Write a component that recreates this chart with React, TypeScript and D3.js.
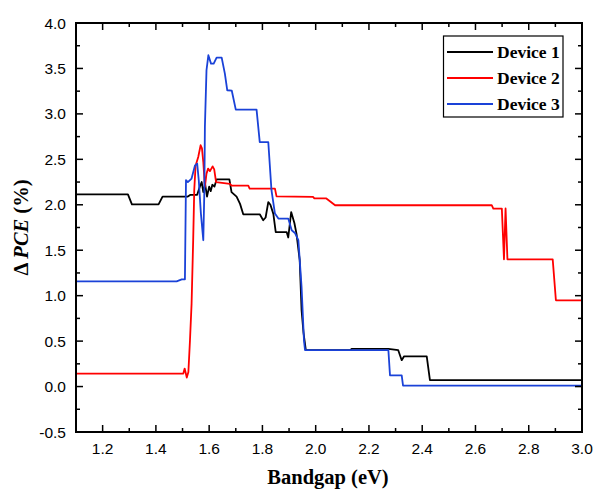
import React, { useEffect, useRef } from 'react';
import * as d3 from 'd3';

// Bandgap (eV) / delta PCE (%)
const dev1X = [1.1, 1.295, 1.31, 1.41, 1.425, 1.52, 1.53, 1.555, 1.565, 1.572, 1.578, 1.585, 1.592, 1.6, 1.606, 1.612, 1.62, 1.628, 1.676, 1.684, 1.703, 1.716, 1.728, 1.79, 1.803, 1.812, 1.822, 1.83, 1.841, 1.85, 1.891, 1.897, 1.908, 1.92, 1.928, 1.94, 1.947, 1.954, 1.963, 2.13, 2.135, 2.273, 2.31, 2.323, 2.332, 2.417, 2.429, 3.0];
const dev1Y = [2.115, 2.115, 2.005, 2.005, 2.09, 2.09, 2.11, 2.11, 2.2, 2.25, 2.14, 2.225, 2.09, 2.2, 2.15, 2.22, 2.2, 2.28, 2.28, 2.14, 2.09, 2.01, 1.895, 1.895, 1.83, 1.86, 2.03, 2.0, 1.9, 1.7, 1.7, 1.64, 1.92, 1.8, 1.68, 1.39, 0.84, 0.6, 0.4, 0.4, 0.415, 0.415, 0.4, 0.29, 0.333, 0.333, 0.07, 0.07];

const dev2X = [1.1, 1.503, 1.508, 1.516, 1.522, 1.528, 1.534, 1.54, 1.544, 1.549, 1.559, 1.568, 1.573, 1.578, 1.584, 1.59, 1.596, 1.603, 1.613, 1.619, 1.626, 1.678, 1.684, 1.747, 1.752, 1.847, 1.853, 1.99, 1.995, 2.04, 2.073, 2.661, 2.667, 2.699, 2.707, 2.713, 2.72, 2.73, 2.89, 2.902, 3.0];
const dev2Y = [0.143, 0.143, 0.198, 0.099, 0.16, 0.509, 0.91, 1.61, 2.16, 2.43, 2.526, 2.655, 2.62, 2.47, 2.196, 2.343, 2.398, 2.37, 2.423, 2.39, 2.25, 2.23, 2.21, 2.21, 2.178, 2.178, 2.093, 2.086, 2.07, 2.07, 1.995, 1.995, 1.958, 1.958, 1.4, 1.96, 1.4, 1.4, 1.4, 0.949, 0.949];

const dev3X = [1.1, 1.478, 1.497, 1.509, 1.513, 1.52, 1.534, 1.547, 1.555, 1.561, 1.569, 1.578, 1.582, 1.584, 1.59, 1.597, 1.607, 1.617, 1.628, 1.647, 1.659, 1.668, 1.685, 1.7, 1.778, 1.79, 1.822, 1.834, 1.847, 1.86, 1.897, 1.91, 1.922, 1.935, 1.947, 1.956, 1.96, 2.273, 2.279, 2.323, 2.328, 3.0];
const dev3Y = [1.158, 1.158, 1.18, 1.18, 2.27, 2.25, 2.288, 2.434, 2.453, 2.27, 1.903, 1.61, 2.16, 2.856, 3.48, 3.645, 3.553, 3.553, 3.619, 3.619, 3.443, 3.26, 3.255, 3.047, 3.047, 2.69, 2.69, 2.16, 1.903, 1.848, 1.848, 1.72, 1.69, 1.61, 1.096, 0.509, 0.4, 0.4, 0.124, 0.124, 0.011, 0.011];

const seriesNames = ['Device 1', 'Device 2', 'Device 3'];
const seriesColors = ['#000000', '#ff0000', '#1a42d8'];

const xTicks = [1.2, 1.4, 1.6, 1.8, 2.0, 2.2, 2.4, 2.6, 2.8, 3.0];
const yTicks = [-0.5, 0.0, 0.5, 1.0, 1.5, 2.0, 2.5, 3.0, 3.5, 4.0];

const W = 595;
const H = 490;
const margin = { left: 76, top: 23, right: 13, bottom: 58 };

const App: React.FC = () => {
    const svgRef = useRef<SVGSVGElement | null>(null);

    useEffect(() => {
        if (svgRef.current) drawChart();
    }, []);

    const drawChart = () => {
        const svg = d3.select(svgRef.current);
        svg.selectAll('*').remove();

        const x = d3.scaleLinear().domain([1.1, 3.0]).range([margin.left, W - margin.right]);
        const y = d3.scaleLinear().domain([-0.5, 4.0]).range([H - margin.bottom, margin.top]);
        const [x0, x1] = x.range();
        const [y0, y1] = y.range();

        const plot = svg.append('g');

        // clip so lines don't poke past the frame
        svg.append('defs')
            .append('clipPath')
            .attr('id', 'clip')
            .append('rect')
            .attr('x', x0)
            .attr('y', y1)
            .attr('width', x1 - x0)
            .attr('height', y0 - y1);

        const line = d3
            .line<[number, number]>()
            .x((d) => x(d[0]))
            .y((d) => y(d[1]));

        const all = [
            [dev1X, dev1Y],
            [dev2X, dev2Y],
            [dev3X, dev3Y],
        ];
        all.forEach(([xs, ys], i) => {
            const pts = xs.map((v, k) => [v, ys[k]] as [number, number]);
            plot.append('path')
                .attr('d', line(pts))
                .attr('fill', 'none')
                .attr('stroke', seriesColors[i])
                .attr('stroke-width', 1.8)
                .attr('stroke-linejoin', 'round')
                .attr('clip-path', 'url(#clip)');
        });

        // ticks (inward, all four sides)
        const minorX = d3.range(11, 31).map((v) => v / 10).filter((v) => Math.round(v * 10) % 2 === 1);
        const minorY = d3.range(-1, 8).map((v) => v * 0.5 + 0.25).filter((v) => v < 4);
        const tk = svg.append('g').attr('stroke', '#000').attr('stroke-width', 1.5);
        xTicks.forEach((v) => {
            tk.append('line').attr('x1', x(v)).attr('x2', x(v)).attr('y1', y0).attr('y2', y0 - 7);
            tk.append('line').attr('x1', x(v)).attr('x2', x(v)).attr('y1', y1).attr('y2', y1 + 7);
        });
        minorX.forEach((v) => {
            tk.append('line').attr('x1', x(v)).attr('x2', x(v)).attr('y1', y0).attr('y2', y0 - 4);
            tk.append('line').attr('x1', x(v)).attr('x2', x(v)).attr('y1', y1).attr('y2', y1 + 4);
        });
        yTicks.forEach((v) => {
            tk.append('line').attr('x1', x0).attr('x2', x0 + 7).attr('y1', y(v)).attr('y2', y(v));
            tk.append('line').attr('x1', x1).attr('x2', x1 - 7).attr('y1', y(v)).attr('y2', y(v));
        });
        minorY.forEach((v) => {
            tk.append('line').attr('x1', x0).attr('x2', x0 + 4).attr('y1', y(v)).attr('y2', y(v));
            tk.append('line').attr('x1', x1).attr('x2', x1 - 4).attr('y1', y(v)).attr('y2', y(v));
        });

        // frame
        svg.append('rect')
            .attr('x', x0)
            .attr('y', y1)
            .attr('width', x1 - x0)
            .attr('height', y0 - y1)
            .attr('fill', 'none')
            .attr('stroke', '#000')
            .attr('stroke-width', 2);

        // tick labels
        const font = '"Liberation Sans", Arial, sans-serif';
        svg.append('g')
            .selectAll('text')
            .data(xTicks)
            .enter()
            .append('text')
            .attr('x', (d) => x(d))
            .attr('y', y0 + 22)
            .attr('text-anchor', 'middle')
            .style('font-family', font)
            .style('font-size', '15.5px')
            .text((d) => d.toFixed(1));
        svg.append('g')
            .selectAll('text')
            .data(yTicks)
            .enter()
            .append('text')
            .attr('x', x0 - 10)
            .attr('y', (d) => y(d) + 5.5)
            .attr('text-anchor', 'end')
            .style('font-family', font)
            .style('font-size', '15.5px')
            .text((d) => d.toFixed(1));

        // axis titles
        const serif = '"Liberation Serif", "Times New Roman", serif';
        svg.append('text')
            .attr('x', (x0 + x1) / 2 - 1)
            .attr('y', 484)
            .attr('text-anchor', 'middle')
            .style('font-family', serif)
            .style('font-weight', 'bold')
            .style('font-size', '20.5px')
            .text('Bandgap (eV)');

        const yt = svg.append('text')
            .attr('transform', `translate(28, ${(y0 + y1) / 2}) rotate(-90)`)
            .attr('text-anchor', 'middle')
            .style('font-family', serif)
            .style('font-weight', 'bold')
            .style('font-size', '20.5px');
        yt.append('tspan').text('\u0394 ');
        yt.append('tspan').style('font-style', 'italic').text('PCE');
        yt.append('tspan').text(' (%)');

        // legend
        const lg = svg.append('g');
        lg.append('rect')
            .attr('x', 443.5)
            .attr('y', 36)
            .attr('width', 119.5)
            .attr('height', 81)
            .attr('fill', '#fff')
            .attr('stroke', '#000')
            .attr('stroke-width', 1.2);
        seriesNames.forEach((name, i) => {
            const ly = 52 + i * 26;
            lg.append('line')
                .attr('x1', 447)
                .attr('x2', 493)
                .attr('y1', ly)
                .attr('y2', ly)
                .attr('stroke', seriesColors[i])
                .attr('stroke-width', 1.8);
            lg.append('text')
                .attr('x', 497)
                .attr('y', ly + 6)
                .style('font-family', serif)
                .style('font-weight', 'bold')
                .style('font-size', '17.5px')
                .text(name);
        });
    };

    return (
        <svg
            ref={svgRef}
            width={W}
            height={H}
            style={{ position: 'absolute', left: 0, top: 0, background: '#fff' }}
        ></svg>
    );
};

export default App;
